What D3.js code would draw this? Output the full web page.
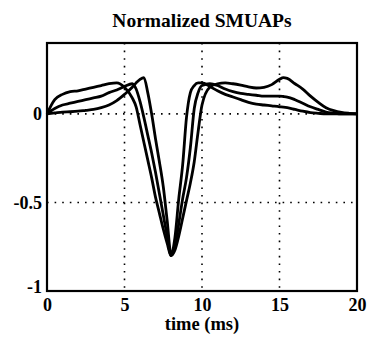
<!DOCTYPE html>
<html>
<head>
<meta charset="utf-8">
<script src="https://cdn.jsdelivr.net/npm/d3@7/dist/d3.min.js"></script>
<style>
  html, body { margin: 0; padding: 0; background: #fff; }
  svg { display: block; }
  text { font-family: "Liberation Serif", "Times New Roman", serif; font-weight: bold; fill: #000; }
</style>
</head>
<body>
<svg id="chart" width="370" height="341"></svg>
<script>
// Sample times (ms), shared by all three waveforms
const time = [0, 0.5, 1, 1.5, 2, 2.5, 3, 3.5, 4, 4.5, 5, 5.5, 5.75, 6, 6.25, 6.5, 6.75, 7, 7.25, 7.5, 7.75,
  8, 8.25, 8.5, 8.75, 9, 9.25, 9.5, 9.75, 10, 10.5, 11, 11.5, 12, 12.5, 13, 13.5, 14, 14.5, 15, 15.25,
  15.5, 16, 16.5, 17, 17.5, 18, 18.5, 19, 19.5, 20];

// Wide SMUAP
const smuapWide = [0, 0.08, 0.11, 0.125, 0.13, 0.14, 0.15, 0.16, 0.17, 0.175, 0.15, 0.09, 0.04, -0.06, -0.16, -0.26, -0.36,
  -0.47, -0.56, -0.65, -0.73, -0.80, -0.77, -0.69, -0.59, -0.49, -0.39, -0.27, -0.10, 0.05, 0.15, 0.17, 0.175,
  0.17, 0.162, 0.152, 0.146, 0.15, 0.165, 0.195, 0.205, 0.2, 0.17, 0.14, 0.10, 0.065, 0.035, 0.018, 0.008, 0.003, 0];

// Medium SMUAP
const smuapMedium = [0, 0.03, 0.05, 0.06, 0.07, 0.08, 0.09, 0.10, 0.12, 0.135, 0.155, 0.17, 0.14, 0.07, -0.02, -0.12, -0.22,
  -0.33, -0.45, -0.57, -0.69, -0.80, -0.75, -0.62, -0.48, -0.36, -0.19, 0.03, 0.12, 0.16, 0.17, 0.16, 0.14,
  0.125, 0.115, 0.11, 0.105, 0.10, 0.10, 0.10, 0.098, 0.095, 0.08, 0.06, 0.04, 0.025, 0.01, 0.004, 0, 0, 0];

// Narrow SMUAP
const smuapNarrow = [0, 0.005, 0.01, 0.012, 0.015, 0.02, 0.025, 0.035, 0.05, 0.075, 0.11, 0.15, 0.175, 0.195, 0.205, 0.12, 0.0,
  -0.14, -0.27, -0.41, -0.60, -0.79, -0.70, -0.48, -0.29, -0.02, 0.12, 0.16, 0.175, 0.175, 0.155, 0.13, 0.11,
  0.095, 0.08, 0.065, 0.055, 0.05, 0.045, 0.04, 0.038, 0.035, 0.025, 0.015, 0.007, 0.003, 0, 0, 0, 0, 0];

const xTicks = [0, 5, 10, 15, 20];
const yTicks = [0, -0.5, -1];
const xGrid = [5, 10, 15];
const yGrid = [0, -0.5];

const svg = d3.select("#chart");
const margin = { left: 47, right: 13, top: 43, bottom: 50 };
const W = 370, H = 341;

const x = d3.scaleLinear().domain([0, 20]).range([margin.left, W - margin.right]);
const y = d3.scaleLinear().domain([-1, 0.4]).range([H - margin.bottom, margin.top]);

// Dotted grid
const grid = svg.append("g").attr("stroke", "#000").attr("stroke-width", 1.6)
  .attr("stroke-dasharray", "1.6,6").attr("fill", "none");
grid.selectAll("line.gx").data(xGrid).join("line").attr("class", "gx")
  .attr("x1", d => x(d)).attr("x2", d => x(d)).attr("y1", y(0.4)).attr("y2", y(-1));
grid.selectAll("line.gy").data(yGrid).join("line").attr("class", "gy")
  .attr("x1", x(0)).attr("x2", x(20)).attr("y1", d => y(d)).attr("y2", d => y(d));

// Waveforms
const line = d3.line().x((d, i) => x(time[i])).y(d => y(d)).curve(d3.curveMonotoneX);
svg.append("g").selectAll("path").data([smuapWide, smuapMedium, smuapNarrow]).join("path")
  .attr("d", line).attr("fill", "none").attr("stroke", "#000")
  .attr("stroke-width", 2.8).attr("stroke-linejoin", "round");

// Frame
svg.append("rect").attr("x", x(0)).attr("y", y(0.4)).attr("width", x(20) - x(0)).attr("height", y(-1) - y(0.4))
  .attr("fill", "none").attr("stroke", "#000").attr("stroke-width", 2.2);

// Axes (labels only)
const xAxis = svg.append("g").attr("transform", `translate(0,${y(-1)})`)
  .call(d3.axisBottom(x).tickValues(xTicks).tickSize(0).tickPadding(7).tickFormat(d3.format("d")));
xAxis.select(".domain").remove();
xAxis.selectAll("text").attr("font-size", 18).attr("font-family", null);

const yAxis = svg.append("g").attr("transform", `translate(${x(0)},0)`)
  .call(d3.axisLeft(y).tickValues(yTicks).tickSize(0).tickPadding(5).tickFormat(d => d === 0 ? "0" : String(d)));
yAxis.select(".domain").remove();
yAxis.selectAll("text").attr("font-size", 18).attr("font-family", null);
yAxis.selectAll(".tick").filter(d => d === -1).select("text").attr("dy", "0.1em");

// Title and axis label
svg.append("text").attr("x", x(10)).attr("y", 27).attr("text-anchor", "middle")
  .attr("font-size", 19.5).text("Normalized SMUAPs");
svg.append("text").attr("x", x(10)).attr("y", 330).attr("text-anchor", "middle")
  .attr("font-size", 18.5).text("time (ms)");
</script>
</body>
</html>
